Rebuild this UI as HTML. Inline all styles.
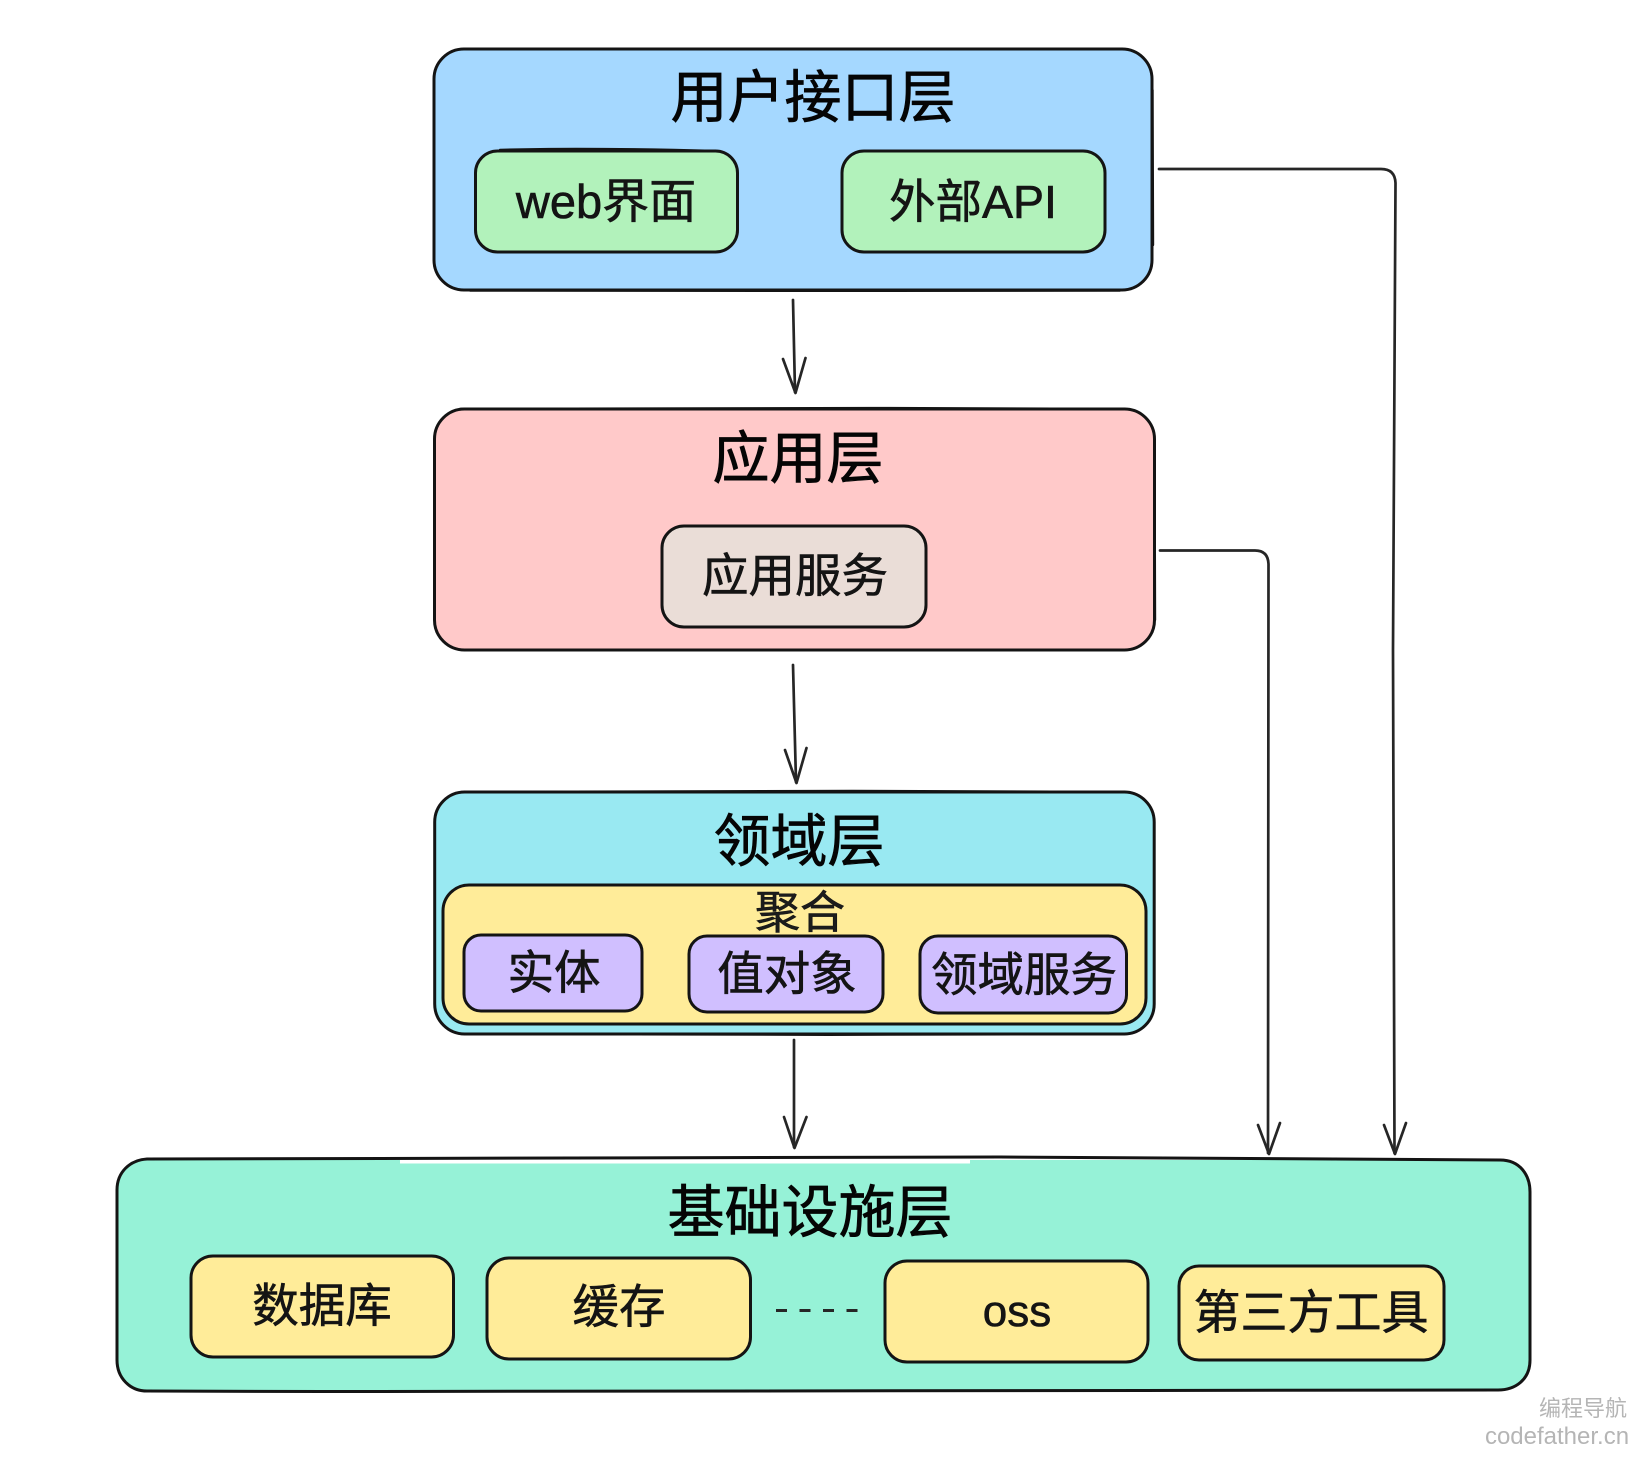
<!DOCTYPE html>
<html lang="zh">
<head>
<meta charset="utf-8">
<title>分层架构图</title>
<style>
html,body{margin:0;padding:0;background:#fff;}
body{width:1638px;height:1460px;overflow:hidden;}
svg{display:block;}
text{font-family:"Liberation Sans","Noto Sans CJK SC",sans-serif;text-anchor:middle;fill:#111;}
.b{stroke:#141414;stroke-width:3;}
.w{fill:none;stroke:#141414;stroke-width:2.4;stroke-linecap:round;stroke-linejoin:round;}
.l{fill:none;stroke:#262626;stroke-width:2.7;stroke-linecap:round;stroke-linejoin:round;}
.t{font-size:57px;fill:#050505;stroke:#050505;stroke-width:.7;}
.s{font-size:46.5px;fill:#141414;stroke:#141414;stroke-width:.6;}
</style>
</head>
<body>
<svg width="1638" height="1460" viewBox="0 0 1638 1460" xmlns="http://www.w3.org/2000/svg">
<rect width="1638" height="1460" fill="#fff"/>

<!-- 用户接口层 -->
<rect class="b" x="434" y="49" width="718" height="241" rx="30" fill="#a5d8ff"/>
<path class="w" d="M1152.5 90 L1153 245 M470 290.5 C700 291 900 291 1120 290.5"/>
<text class="t" x="813" y="117">用户接口层</text>
<rect class="b" x="475.5" y="151" width="262" height="101" rx="22" fill="#b2f2bb"/>
<path class="w" d="M500 150 C560 148 640 149 715 151"/>
<text class="s" x="606" y="218" style="font-size:47px">web界面</text>
<rect class="b" x="842" y="151" width="263" height="101" rx="22" fill="#b2f2bb"/>
<text class="s" x="973" y="218">外部API</text>

<!-- 应用层 -->
<rect class="b" x="434.5" y="409" width="720" height="241" rx="30" fill="#ffc9c9"/>
<path class="w" d="M460 409 C700 407 900 408 1125 409 M1154.5 450 L1155 620"/>
<text class="t" x="798" y="478">应用层</text>
<rect class="b" x="662" y="526" width="264" height="101" rx="22" fill="#eaddd7"/>
<text class="s" x="795" y="592">应用服务</text>

<!-- 领域层 -->
<rect class="b" x="434.7" y="792" width="719.5" height="242" rx="30" fill="#99e9f2"/>
<path class="w" d="M465 792 C700 790 900 791 1125 792 M470 1034 C700 1035 900 1035 1125 1034"/>
<text class="t" x="799" y="861">领域层</text>
<rect class="b" x="443" y="885" width="703" height="139" rx="26" fill="#ffec99"/>
<text class="s" x="800" y="928" style="font-size:45px;fill:#1c1c1c">聚合</text>
<rect class="b" x="464" y="935" width="178" height="76" rx="17" fill="#d0bfff"/>
<text class="s" x="554" y="989">实体</text>
<rect class="b" x="689" y="936" width="194" height="76" rx="18" fill="#d0bfff"/>
<text class="s" x="787" y="990">值对象</text>
<rect class="b" x="920" y="936" width="206.5" height="77" rx="18" fill="#d0bfff"/>
<text class="s" x="1024" y="991">领域服务</text>

<!-- 基础设施层 -->
<rect x="117" y="1160" width="1413" height="231" rx="30" fill="#96f2d7"/>
<rect x="400" y="1157" width="570" height="6.5" fill="#fff"/>
<path d="M147 1159 C400 1158 700 1156 1000 1157 C1200 1157 1350 1158 1500 1160 C1520 1160 1530 1175 1530 1192 L1530 1360 C1530 1380 1515 1390 1498 1390 C1300 1392 700 1393 147 1391 C130 1391 117 1378 117 1360 L117 1190 C117 1172 130 1160 147 1159 Z" fill="none" stroke="#141414" stroke-width="3"/>
<text class="t" x="810" y="1232">基础设施层</text>

<rect class="b" x="191" y="1256" width="262.5" height="101" rx="22" fill="#ffec99"/>
<text class="s" x="322" y="1322">数据库</text>
<rect class="b" x="487" y="1258" width="263.5" height="101" rx="22" fill="#ffec99"/>
<text class="s" x="619" y="1323">缓存</text>
<path d="M776 1310.5 H859" fill="none" stroke="#262626" stroke-width="3" stroke-dasharray="11 12.5"/>
<rect class="b" x="885" y="1261" width="263" height="101" rx="22" fill="#ffec99"/>
<text class="s" x="1017" y="1326" style="font-size:44px">oss</text>
<rect class="b" x="1179" y="1266" width="265" height="94" rx="20" fill="#ffec99"/>
<text class="s" x="1311" y="1329" style="font-size:47px">第三方工具</text>

<!-- 垂直箭头 -->
<path class="l" d="M793 300 L795 392"/>
<path class="l" d="M783 359 L795.5 393 L805.5 358"/>
<path class="l" d="M793 665 L796 782"/>
<path class="l" d="M785 750 L796.5 783 L806.5 748"/>
<path class="l" d="M794 1040 L794 1147"/>
<path class="l" d="M784 1117 L794.5 1148 L806.5 1117"/>

<!-- 右侧连接线 -->
<path class="l" d="M1159 169 L1381 169 Q1395 169 1395.5 183 L1393 650 L1394.5 1153"/>
<path class="l" d="M1384 1125 L1395 1154 L1406 1123"/>
<path class="l" d="M1160 550.5 L1255 550.5 Q1268 550.5 1268.5 564 L1268 1153"/>
<path class="l" d="M1258 1125 L1269 1154 L1280 1123"/>

<!-- 水印 -->
<text x="1583" y="1416" style="font-size:22px;fill:#b5b5b5">编程导航</text>
<text x="1557" y="1444" style="font-size:24px;fill:#b5b5b5">codefather.cn</text>
</svg>
</body>
</html>
